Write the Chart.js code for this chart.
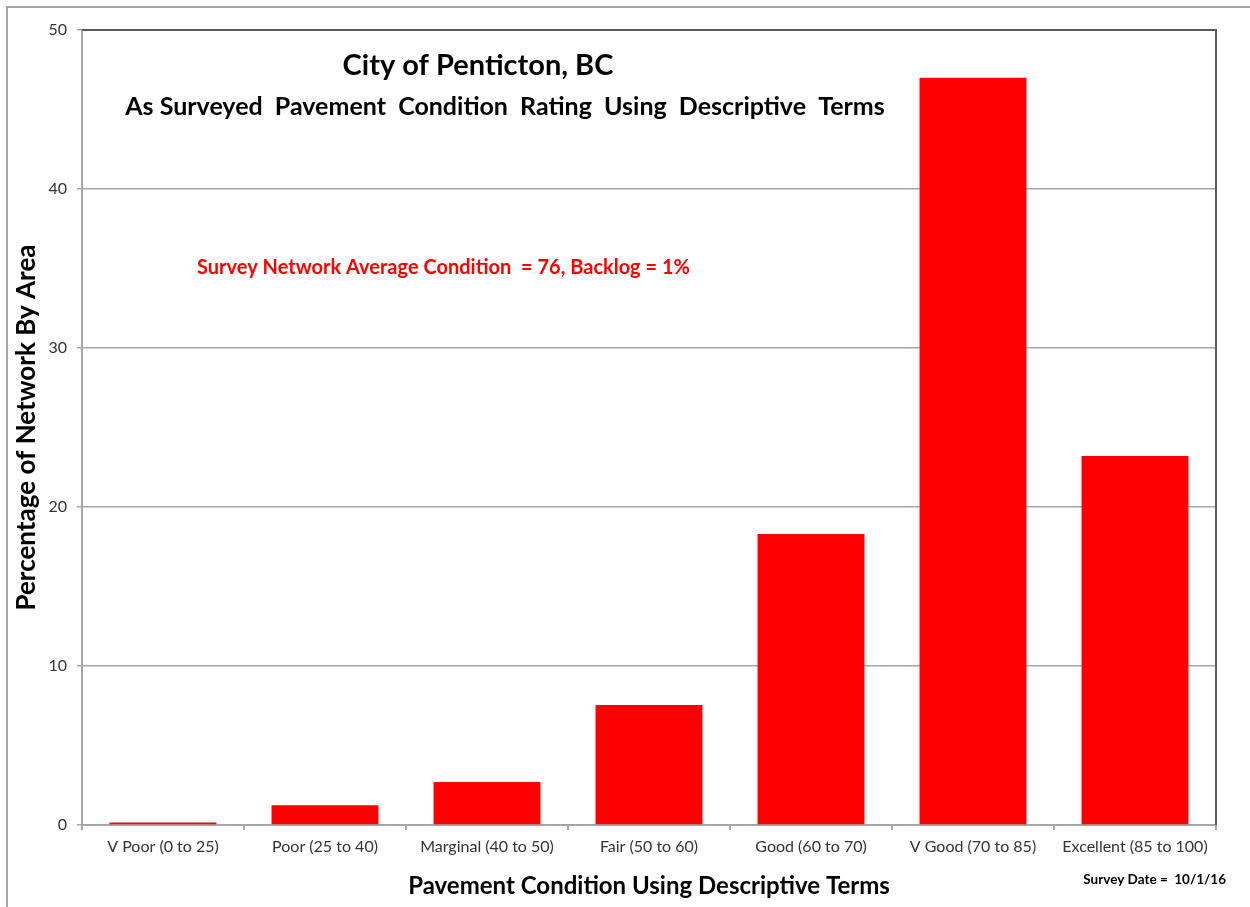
<!DOCTYPE html>
<html>
<head>
<meta charset="utf-8">
<script src="https://cdn.jsdelivr.net/npm/chart.js@4"></script>
<style>
  html, body { margin: 0; padding: 0; background: #fff; }
  #wrap { width: 1250px; height: 907px; position: relative; }
</style>
</head>
<body>
<div id="wrap"><canvas id="pciChart" width="1250" height="907"></canvas></div>
<script>
const categories = [
  "V Poor (0 to 25)",
  "Poor (25 to 40)",
  "Marginal (40 to 50)",
  "Fair (50 to 60)",
  "Good (60 to 70)",
  "V Good (70 to 85)",
  "Excellent (85 to 100)",
];
const percentByArea = [0.15, 1.25, 2.7, 7.55, 18.3, 47.0, 23.2];
const yTicks = [0, 10, 20, 30, 40, 50];

const FONT = "Lato, 'Open Sans', sans-serif";

// frame, top/right borders and free text
const decorations = {
  id: "decorations",
  beforeDraw(chart) {
    const ctx = chart.ctx;
    ctx.save();
    ctx.strokeStyle = "#a6a6a6";
    ctx.lineWidth = 2;
    ctx.beginPath();
    ctx.moveTo(7, 907);
    ctx.lineTo(7, 7);
    ctx.lineTo(1250, 7);
    ctx.stroke();
    ctx.restore();
  },
  afterDraw(chart) {
    const { ctx, chartArea } = chart;
    ctx.save();
    ctx.strokeStyle = "#5a5a5a";
    ctx.lineWidth = 2;
    ctx.beginPath();
    ctx.moveTo(chartArea.left, chartArea.top);
    ctx.lineTo(chartArea.right, chartArea.top);
    ctx.lineTo(chartArea.right, chartArea.bottom);
    ctx.stroke();

    ctx.textBaseline = "middle";
    ctx.textAlign = "center";
    ctx.fillStyle = "#000";
    ctx.font = "bold 29px " + FONT;
    ctx.fillText("City of Penticton, BC", 478, 66);
    ctx.font = "bold 25px " + FONT;
    ctx.fillText("As Surveyed  Pavement  Condition  Rating  Using  Descriptive  Terms", 505, 107);

    ctx.textAlign = "left";
    ctx.fillStyle = "#ff0000";
    ctx.font = "bold 20px " + FONT;
    ctx.fillText("Survey Network Average Condition  = 76, Backlog = 1%", 197, 268);

    ctx.textAlign = "right";
    ctx.fillStyle = "#000";
    ctx.font = "bold 13.5px " + FONT;
    ctx.fillText("Survey Date =  10/1/16", 1226, 880);
    ctx.restore();
  },
};

new Chart(document.getElementById("pciChart"), {
  type: "bar",
  data: {
    labels: categories,
    datasets: [
      {
        label: "Percentage of Network By Area",
        data: percentByArea,
        backgroundColor: "#ff0000",
        borderWidth: 0,
        barPercentage: 0.66,
        categoryPercentage: 1,
      },
    ],
  },
  options: {
    responsive: false,
    animation: false,
    layout: { padding: { top: 30, right: 34, left: 0, bottom: 0 } },
    plugins: {
      legend: { display: false },
      tooltip: { enabled: false },
    },
    scales: {
      x: {
        grid: {
          offset: true,
          drawOnChartArea: false,
          drawTicks: true,
          tickLength: 5,
          color: "#a6a6a6",
          lineWidth: 2,
        },
        border: { color: "#a6a6a6", width: 2 },
        ticks: {
          color: "#333",
          font: { family: FONT, size: 16 },
          padding: 7,
          maxRotation: 0,
          autoSkip: false,
        },
        title: {
          display: true,
          text: "Pavement Condition Using Descriptive Terms",
          color: "#000",
          font: { family: FONT, size: 24, weight: "bold" },
          padding: { top: 0, bottom: 6 },
        },
        afterFit(scale) {
          scale.height = 82;
        },
      },
      y: {
        min: 0,
        max: 50,
        afterBuildTicks(scale) {
          scale.ticks = yTicks.map((v) => ({ value: v }));
        },
        grid: {
          color: "#a6a6a6",
          lineWidth: 1.5,
          tickLength: 5,
          drawTicks: true,
        },
        border: { color: "#a6a6a6", width: 2 },
        ticks: {
          color: "#333",
          font: { family: FONT, size: 16 },
          padding: 10,
        },
        title: {
          display: true,
          text: "Percentage of Network By Area",
          color: "#000",
          font: { family: FONT, size: 26, weight: "bold" },
          padding: { top: 11, bottom: 0 },
        },
        afterFit(scale) {
          scale.width = 82;
        },
      },
    },
  },
  plugins: [decorations],
});
</script>
</body>
</html>
